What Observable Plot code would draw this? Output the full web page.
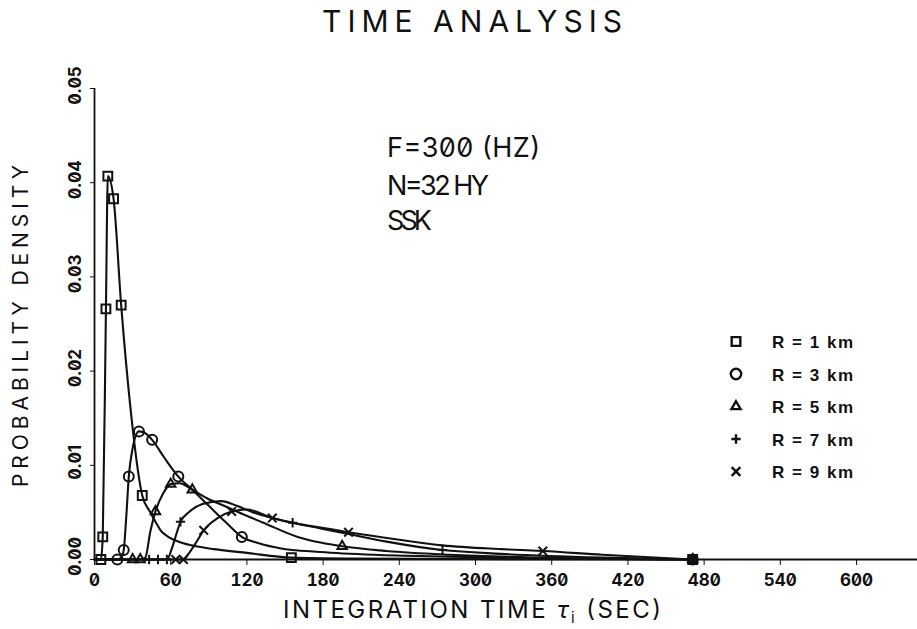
<!DOCTYPE html>
<html><head><meta charset="utf-8">
<script src="https://cdn.jsdelivr.net/npm/d3@7"></script>
<script src="https://cdn.jsdelivr.net/npm/@observablehq/plot@0.6"></script>
<style>
html,body{margin:0;padding:0;background:#fff;}
#wrap{position:relative;width:917px;height:629px;overflow:hidden;background:#fff;}
#wrap > svg{position:absolute;left:0;top:0;}
#wrap svg text{font-feature-settings:"zero" 1;}
</style></head><body><div id="wrap"></div>
<script>
// ---- data ----
const seriesNames = ["R = 1 km", "R = 3 km", "R = 5 km", "R = 7 km", "R = 9 km"];
const xTicks = [0, 60, 120, 180, 240, 300, 360, 420, 480, 540, 600];
const yTicks = [0, 0.01, 0.02, 0.03, 0.04, 0.05];

// R = 1 km (squares)
const t1 = [0, 5, 6.5, 9, 10.5, 15, 21, 28, 37.6, 44, 48, 52, 58, 68, 80, 94, 120, 155, 200, 300, 471];
const p1 = [0, 0, 0.0024, 0.0266, 0.0407, 0.0383, 0.0270, 0.0165, 0.0068, 0.0050, 0.0040, 0.0031, 0.0024, 0.0018, 0.0014, 0.0011, 0.0007, 0.0002, 0.0001, 0.00005, 0];
const m1 = [0, 1, 1, 1, 1, 1, 1, 0, 1, 0, 0, 0, 0, 0, 0, 0, 0, 1, 0, 0, 1];
// R = 3 km (circles)
const t2 = [0, 18, 21, 23, 25, 27, 30, 35, 40, 45.4, 55, 66, 77, 90, 103, 116, 130, 146, 178, 220, 280, 360, 471];
const p2 = [0, 0, 0.0002, 0.0010, 0.0045, 0.0088, 0.0118, 0.0136, 0.0134, 0.0127, 0.0108, 0.0088, 0.0074, 0.0057, 0.0040, 0.0024, 0.0017, 0.0012, 0.0008, 0.0005, 0.0003, 0.0001, 0];
const m2 = [0, 1, 0, 1, 0, 1, 0, 1, 0, 1, 0, 1, 0, 0, 0, 1, 0, 0, 0, 0, 0, 0, 1];
// R = 5 km (triangles)
const t3 = [0, 30, 36, 40, 44, 48, 54, 60, 67, 77, 90, 102, 112, 133, 160, 178, 195, 230, 280, 350, 471];
const p3 = [0, 0, 0, 0.0002, 0.0030, 0.0051, 0.0070, 0.0080, 0.0081, 0.0074, 0.0064, 0.0057, 0.0051, 0.0039, 0.0024, 0.0018, 0.0014, 0.0009, 0.0005, 0.0002, 0];
const m3 = [0, 1, 1, 0, 0, 1, 0, 1, 0, 1, 0, 0, 0, 0, 0, 0, 1, 0, 0, 0, 1];
// R = 7 km (plus)
const t4 = [0, 43, 50, 57, 61, 64, 67.7, 75, 85, 100, 112, 125, 140, 156, 178, 200, 230, 274, 320, 400, 471];
const p4 = [0, 0, 0, 0, 0.0012, 0.0025, 0.0040, 0.0051, 0.0059, 0.0062, 0.0057, 0.0050, 0.0044, 0.0039, 0.0033, 0.0027, 0.0019, 0.0010, 0.0006, 0.0002, 0];
const m4 = [0, 1, 1, 1, 0, 0, 1, 0, 0, 0, 0, 0, 0, 1, 0, 0, 0, 1, 0, 0, 1];
// R = 9 km (times)
const t5 = [0, 64, 70, 74, 80, 86, 97, 108, 120, 140, 160, 178, 200, 240, 274, 320, 353, 400, 471];
const p5 = [0, 0, 0, 0.0006, 0.0018, 0.0031, 0.0044, 0.0051, 0.0053, 0.0044, 0.0038, 0.0034, 0.0029, 0.0021, 0.0015, 0.0011, 0.0009, 0.0005, 0];
const m5 = [0, 1, 1, 0, 0, 1, 0, 1, 0, 1, 0, 0, 1, 0, 0, 0, 1, 0, 1];

// ---- build table ----
const rows = [];
[[t1, p1, m1], [t2, p2, m2], [t3, p3, m3], [t4, p4, m4], [t5, p5, m5]].forEach(([ts, ps, ms], k) => {
  ts.forEach((t, i) => rows.push({series: seriesNames[k], t, p: ps[i], m: ms[i]}));
});
const marked = rows.filter(d => d.m);

const symbolRange = ["square", "circle", "triangle", "plus", "times"];
const symbolR = {"R = 1 km": 5, "R = 3 km": 5, "R = 5 km": 3.5, "R = 7 km": 3.1, "R = 9 km": 4};
const ink = "#111";

const chart = Plot.plot({
  width: 917, height: 629,
  marginLeft: 94, marginRight: 0, marginTop: 88, marginBottom: 70,
  style: {background: "#fff", color: ink, fontFamily: "Inter, 'DejaVu Sans', sans-serif", fontSize: "17px", fontWeight: "700"},
  x: {domain: [0, 648], ticks: xTicks, tickSize: 6, tickPadding: 8, tickFormat: d => String(d), label: null},
  y: {domain: [0, 0.05], ticks: yTicks, tickSize: 4, tickFormat: () => "", label: null},
  symbol: {domain: seriesNames, range: symbolRange},
  marks: [
    Plot.ruleX([0], {stroke: ink, strokeWidth: 1.8}),
    Plot.ruleY([0], {stroke: ink, strokeWidth: 2.2}),
    Plot.line(rows, {x: "t", y: "p", z: "series", curve: "monotone-x", stroke: ink, strokeWidth: 2.1}),
    ...seriesNames.map(s => Plot.dot(marked.filter(d => d.series === s), {
      x: "t", y: "p", symbol: "series", r: symbolR[s], stroke: ink, strokeWidth: 2, fill: "none"
    })),
    Plot.text(yTicks, {x: 0, y: d => d, text: d => d.toFixed(2), rotate: -90, dx: -19, dy: -3,
      fontSize: 17, fontWeight: 700, fontFamily: "Inter, 'DejaVu Sans', sans-serif", fill: ink, textAnchor: "middle", lineAnchor: "middle"})
  ]
});
document.getElementById("wrap").appendChild(chart);

// ---- overlay: title, axis labels, annotations, legend ----
const ov = d3.create("svg").attr("width", 917).attr("height", 629)
  .attr("font-family", "Inter, 'DejaVu Sans', sans-serif").attr("fill", ink);

ov.append("text").attr("x", 322).attr("y", 32).attr("font-size", 30).attr("font-weight", 400)
  .attr("textLength", 300).attr("lengthAdjust", "spacing").text("TIME ANALYSIS");

const xl = ov.append("text").attr("x", 283).attr("y", 618).attr("font-size", 24).attr("font-weight", 400)
  .attr("textLength", 378).attr("lengthAdjust", "spacing");
xl.append("tspan").text("INTEGRATION TIME ");
xl.append("tspan").attr("font-style", "italic").text("τ");
xl.append("tspan").attr("font-size", 15).attr("dy", 5).text("i");
xl.append("tspan").attr("dy", -5).text(" (SEC)");

ov.append("text").attr("transform", "translate(28,326) rotate(-90)").attr("text-anchor", "middle")
  .attr("font-size", 21).attr("font-weight", 400).attr("textLength", 322).attr("lengthAdjust", "spacing")
  .text("PROBABILITY DENSITY");

const notes = [["F=300 (HZ)", 157, 153], ["N=32 HY", 195, 102], ["SSK", 230, 45]];
notes.forEach(([s, y, w]) => ov.append("text").attr("x", 387).attr("y", y).attr("font-size", 27)
  .attr("font-weight", 400).attr("textLength", w).attr("lengthAdjust", "spacing").text(s));

const legSyms = [d3.symbolSquare, d3.symbolCircle, d3.symbolTriangle, d3.symbolPlus, d3.symbolTimes];
const legSizes = [75, 85, 36, 30, 50];
seriesNames.forEach((s, i) => {
  const y = 341.5 + i * 32.5;
  ov.append("path").attr("transform", `translate(736,${y})`)
    .attr("d", d3.symbol(legSyms[i], legSizes[i])())
    .attr("fill", "none").attr("stroke", ink).attr("stroke-width", 2.4);
  ov.append("text").attr("x", 772).attr("y", y + 6.5)
    .attr("font-family", "'Liberation Sans', Arial, sans-serif").attr("font-weight", 700).attr("font-size", 17)
    .attr("textLength", 81).attr("lengthAdjust", "spacing").text(s);
});
document.getElementById("wrap").appendChild(ov.node());
</script></body></html>
